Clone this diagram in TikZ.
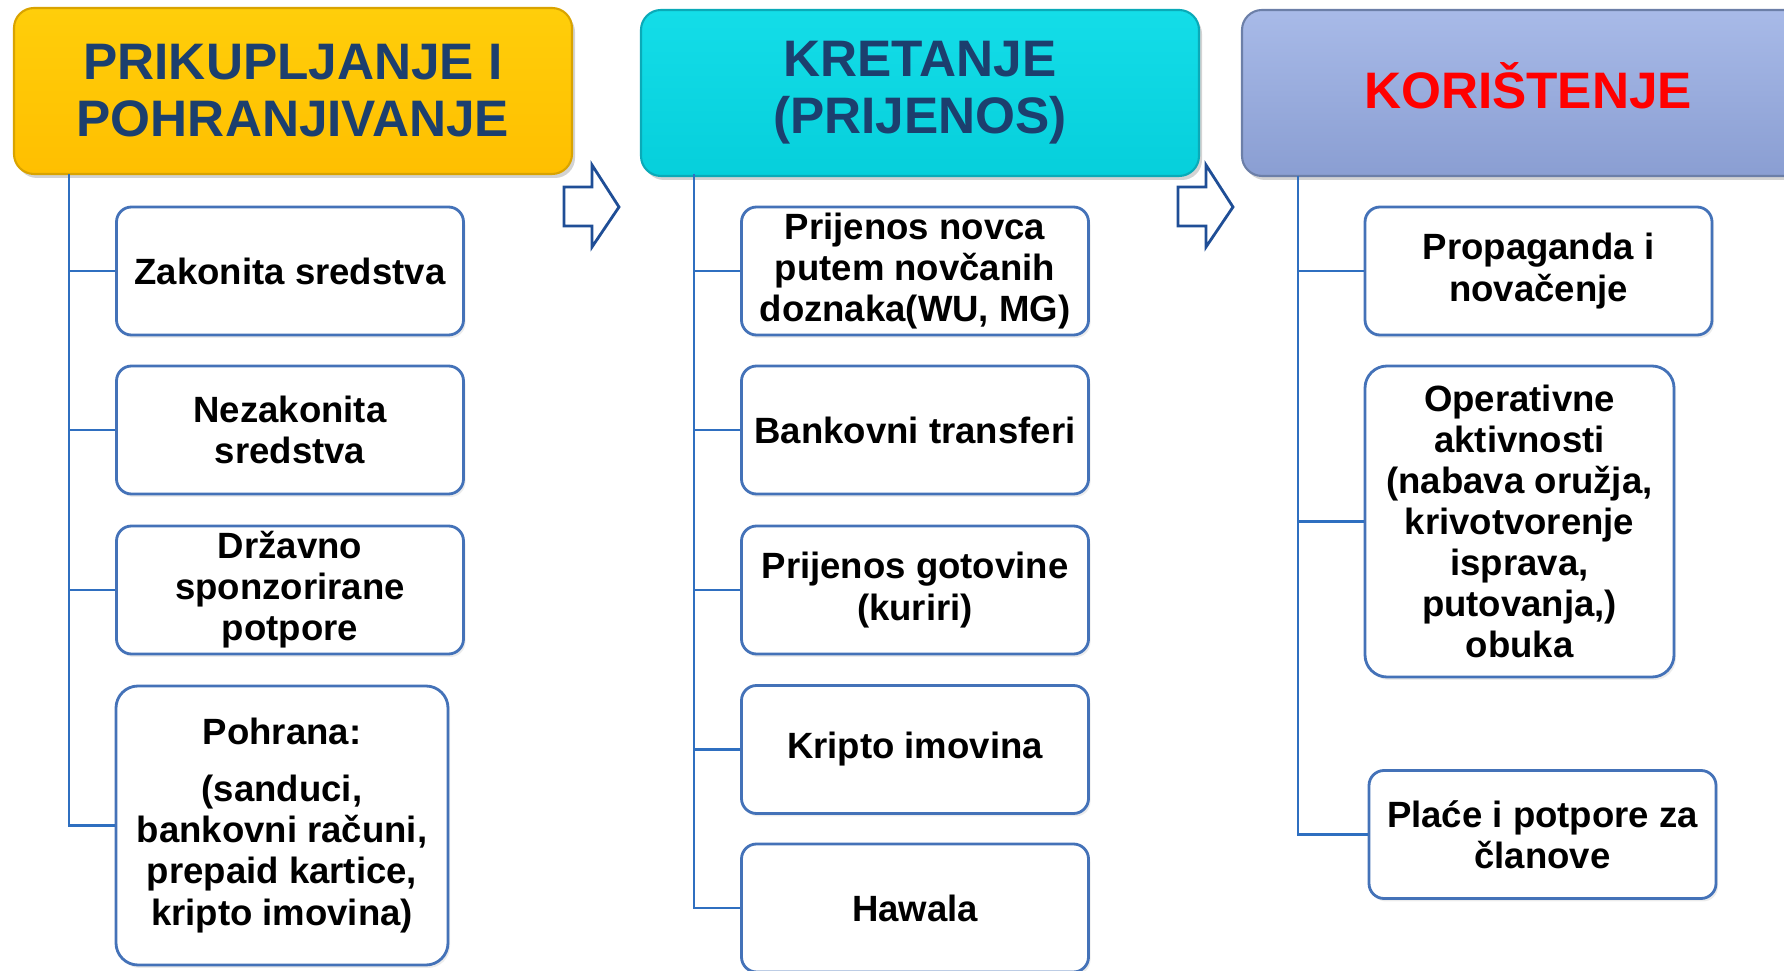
\documentclass[tikz,border=0pt]{standalone}
\usepackage{fontspec}
\setmainfont{Liberation Sans}
\usetikzlibrary{shadows}

\definecolor{navy}{HTML}{1C3F6E}
\definecolor{linkblue}{HTML}{2F6FC0}
\definecolor{boxblue}{HTML}{4472B8}
\definecolor{arrowblue}{HTML}{1F4E96}
\definecolor{goldtop}{HTML}{FFCE0A}
\definecolor{goldbot}{HTML}{FFBF00}
\definecolor{goldline}{HTML}{D9A300}
\definecolor{cyantop}{HTML}{14DDE8}
\definecolor{cyanbot}{HTML}{06CFDB}
\definecolor{cyanline}{HTML}{0AAAB8}
\definecolor{lavtop}{HTML}{A8BAE8}
\definecolor{lavbot}{HTML}{8A9ED2}
\definecolor{lavline}{HTML}{6C7FA8}

\tikzset{
  header/.style={rounded corners=0.2cm, minimum height=1.66cm, align=center,
    font=\fontsize{14.6}{16.2}\selectfont\bfseries, text=navy, line width=0.6pt,
    drop shadow={shadow xshift=0.03cm, shadow yshift=-0.04cm, opacity=0.35}},
  itembox/.style={draw=boxblue, line width=0.8pt, fill=white, rounded corners=0.15cm,
    align=center, font=\fontsize{10.4}{11.7}\selectfont\bfseries,
    minimum width=3.47cm, minimum height=1.28cm, inner sep=1pt,
    drop shadow={shadow xshift=0.02cm, shadow yshift=-0.03cm, opacity=0.15}},
  trunk/.style={draw=linkblue, line width=0.75pt},
  flowarrow/.style={draw=arrowblue, line width=0.8pt, fill=white}
}

\begin{document}
\begin{tikzpicture}

\useasboundingbox (0,0) rectangle (17.84,-9.71);

% headers
\node[header, minimum width=5.58cm, draw=goldline, top color=goldtop, bottom color=goldbot] (h1) at (2.93,-0.91) {PRIKUPLJANJE I\\POHRANJIVANJE};
\node[header, minimum width=5.58cm, draw=cyanline, top color=cyantop, bottom color=cyanbot] (h2) at (9.20,-0.93) {KRETANJE\\(PRIJENOS)};
\node[header, minimum width=5.72cm, draw=lavline, top color=lavtop, bottom color=lavbot, text=red, text height=0.9em, text depth=0pt] (h3) at (15.28,-0.93) {KORIŠTENJE};

% arrows between headers
\foreach \ax in {5.64,11.78}
  \draw[flowarrow] (\ax,-1.87) -- ++(0.28,0) -- ++(0,0.22) -- ++(0.27,-0.42)
    -- ++(-0.27,-0.40) -- ++(0,0.21) -- ++(-0.28,0) -- cycle;

% column 1
\node[itembox] (a1) at (2.90,-2.71) {Zakonita sredstva};
\node[itembox] (a2) at (2.90,-4.30) {Nezakonita\\sredstva};
\node[itembox] (a3) at (2.90,-5.90) {Državno\\sponzorirane\\potpore};
\node[itembox, minimum width=3.32cm, minimum height=2.79cm, rounded corners=0.22cm] (a4) at (2.82,-8.255) {Pohrana:\\[4.5pt](sanduci,\\bankovni računi,\\prepaid kartice,\\kripto imovina)};

% column 2
\node[itembox] (b1) at (9.15,-2.71) {Prijenos novca\\putem novčanih\\doznaka(WU, MG)};
\node[itembox] (b2) at (9.15,-4.30) {Bankovni transferi};
\node[itembox] (b3) at (9.15,-5.90) {Prijenos gotovine\\(kuriri)};
\node[itembox] (b4) at (9.15,-7.495) {Kripto imovina};
\node[itembox] (b5) at (9.15,-9.08) {Hawala};

% column 3
\node[itembox] (c1) at (15.385,-2.71) {Propaganda i\\novačenje};
\node[itembox, minimum width=3.09cm, minimum height=3.11cm, rounded corners=0.22cm] (c2) at (15.195,-5.215) {Operativne\\aktivnosti\\(nabava oružja,\\krivotvorenje\\isprava,\\putovanja,)\\obuka};
\node[itembox] (c3) at (15.425,-8.345) {Plaće i potpore za\\članove};

% connections
\coordinate (t1) at (0.69,-1.74);
\coordinate (t2) at (6.94,-1.74);
\coordinate (t3) at (12.98,-1.76);
\draw[trunk] (t1) |- (a4.west);
\draw[trunk] (t2) |- (b5.west);
\draw[trunk] (t3) |- (c3.west);
\foreach \n in {a1,a2,a3}
  \draw[trunk] (\n.west) -- (\n.west -| t1);
\foreach \n in {b1,b2,b3,b4}
  \draw[trunk] (\n.west) -- (\n.west -| t2);
\foreach \n in {c1,c2}
  \draw[trunk] (\n.west) -- (\n.west -| t3);

\end{tikzpicture}
\end{document}
